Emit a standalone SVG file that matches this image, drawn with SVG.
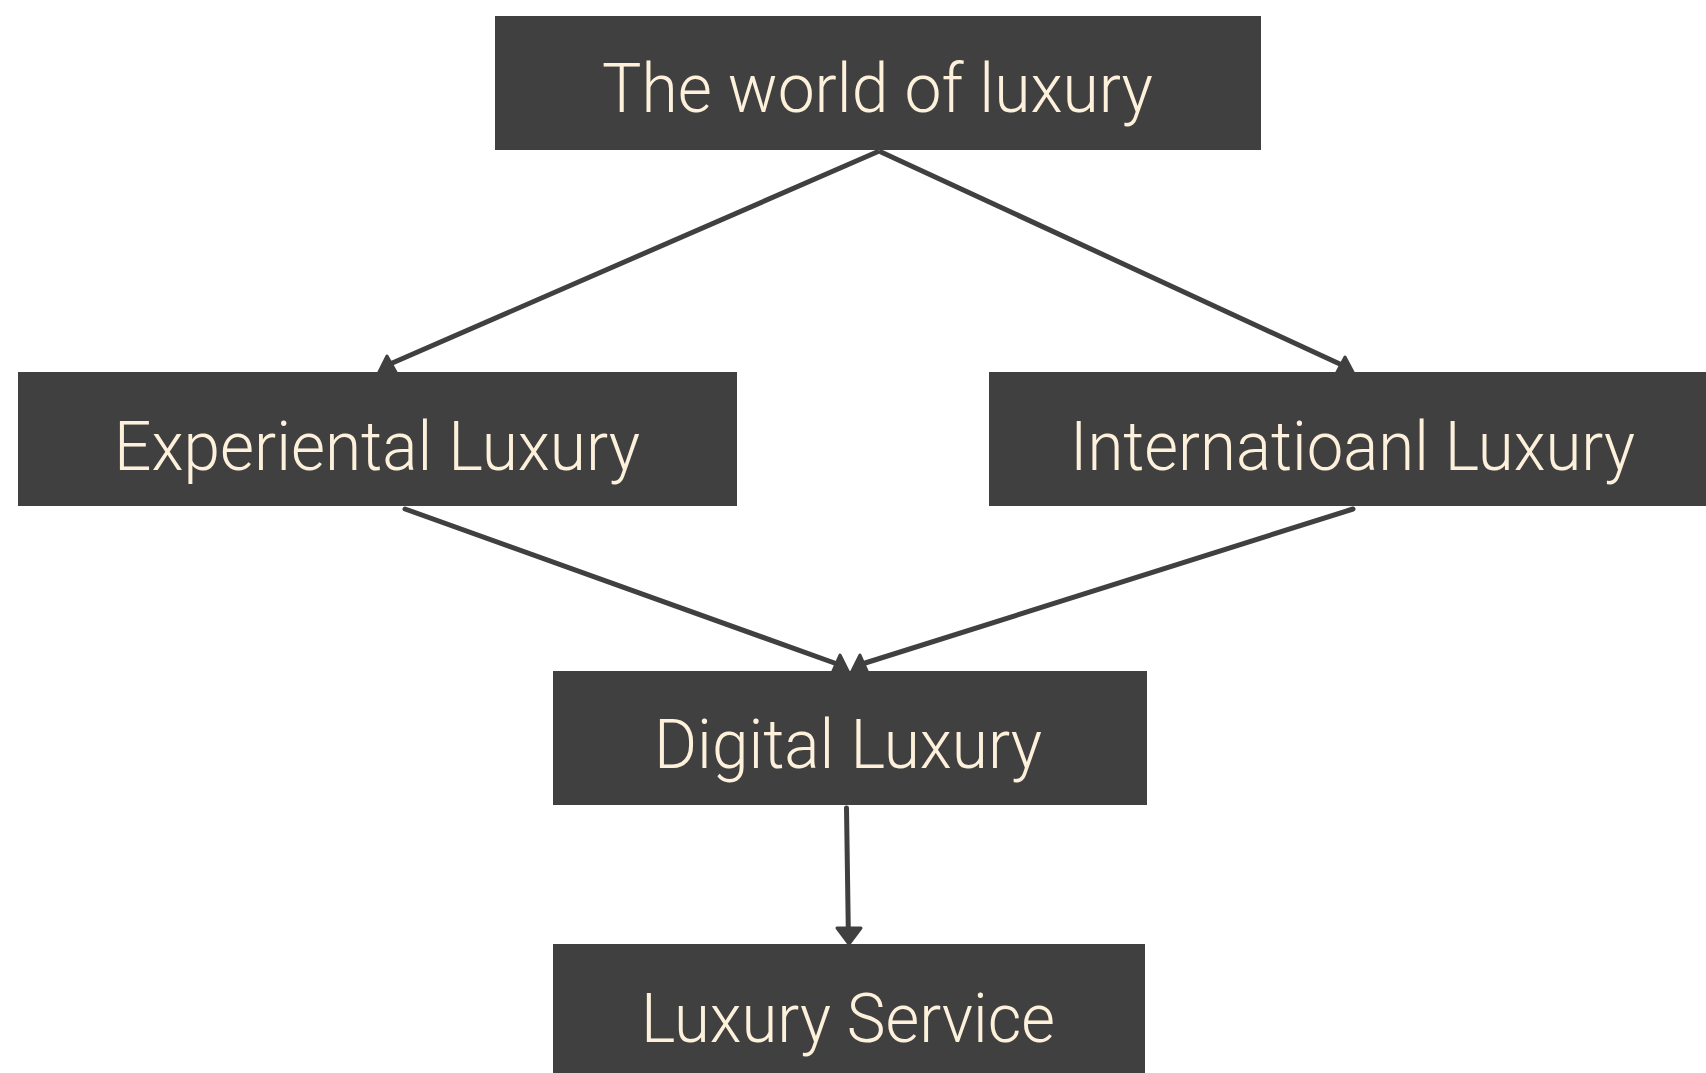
<svg xmlns="http://www.w3.org/2000/svg" width="1706" height="1073" viewBox="0 0 1706 1073">
<style>
.box{fill:#404040}
.lbl{fill:#fdf1dc;font-family:Roboto,"Open Sans","DejaVu Sans Condensed",sans-serif;font-weight:300;font-size:68px}
.ln{stroke:#404040;stroke-width:5;fill:none;stroke-linecap:round}
.hd{fill:#404040;stroke:#404040;stroke-width:3;stroke-linejoin:round}
</style>
<rect width="1706" height="1073" fill="#ffffff"/>
<g id="connectors">
<line class="ln" x1="877" y1="152" x2="390" y2="364"/>
<polygon class="hd" points="378,374 387,356 397,374"/>
<line class="ln" x1="881" y1="152" x2="1342" y2="365"/>
<polygon class="hd" points="1336,374 1345,357 1354,374"/>
<line class="ln" x1="405" y1="509" x2="840" y2="665"/>
<polygon class="hd" points="832,673 840,655 849,673"/>
<line class="ln" x1="1353" y1="509" x2="862" y2="664"/>
<polygon class="hd" points="851,673 860,655 868,673"/>
<line class="ln" x1="846.5" y1="808" x2="848.3" y2="930"/>
<polygon class="hd" points="837,928 861,928 849,944"/>
</g>
<g id="node-world">
<rect class="box" x="495" y="16" width="766" height="134"/>
<text class="lbl" x="602" y="112" textLength="551" lengthAdjust="spacingAndGlyphs">The world of luxury</text>
</g>
<g id="node-experiential">
<rect class="box" x="18" y="372" width="719" height="134"/>
<text class="lbl" x="114" y="470" textLength="526" lengthAdjust="spacingAndGlyphs">Experiental Luxury</text>
</g>
<g id="node-international">
<rect class="box" x="989" y="372" width="717" height="134"/>
<text class="lbl" x="1070" y="470" textLength="565" lengthAdjust="spacingAndGlyphs">Internatioanl Luxury</text>
</g>
<g id="node-digital">
<rect class="box" x="553" y="671" width="594" height="134"/>
<text class="lbl" x="654" y="768" textLength="388" lengthAdjust="spacingAndGlyphs">Digital Luxury</text>
</g>
<g id="node-service">
<rect class="box" x="553" y="944" width="592" height="134"/>
<text class="lbl" x="641" y="1042" textLength="414" lengthAdjust="spacingAndGlyphs">Luxury Service</text>
</g>
</svg>
